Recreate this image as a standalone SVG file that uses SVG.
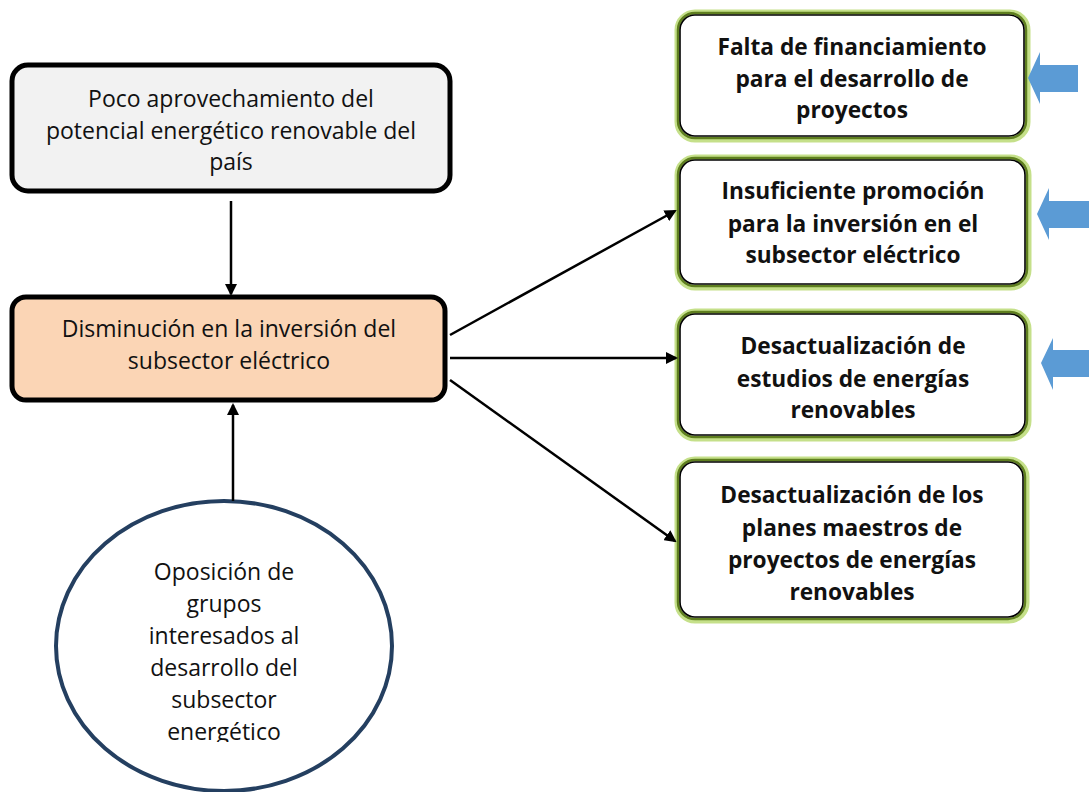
<svg xmlns="http://www.w3.org/2000/svg" width="1089" height="792" viewBox="0 0 1089 792">
<style>
.t{font-family:"Open Sans","Liberation Sans",sans-serif;font-size:23px;fill:#111;text-anchor:middle}
.b{font-family:"Open Sans","Liberation Sans",sans-serif;font-size:22.7px;font-weight:bold;fill:#111;text-anchor:middle}
.g1{fill:none;stroke:#c5e08a;stroke-width:5}
.g2{fill:none;stroke:#5f7f1f;stroke-width:2.5}
.g3{fill:#fff;stroke:#000;stroke-width:1.6}
.c{stroke:#000;stroke-width:2.5;fill:none}
.blue{fill:#5b9bd5}
</style>
<defs>
<marker id="ah" markerWidth="12" markerHeight="12" refX="10" refY="6" orient="auto" markerUnits="userSpaceOnUse">
<path d="M0,0 L12,6 L0,12 Z" fill="#000"/>
</marker>
<clipPath id="ec"><rect x="0" y="0" width="1089" height="742"/></clipPath>
</defs>
<g id="n1">
<rect x="12" y="65" width="438" height="126" rx="16" fill="#f2f2f2" stroke="#000" stroke-width="5"/>
<text class="t" x="231" y="107">Poco aprovechamiento del</text>
<text class="t" x="231" y="139">potencial energético renovable del</text>
<text class="t" x="231" y="170">país</text>
</g>
<g id="n2">
<rect x="12" y="297" width="433" height="103" rx="14" fill="#fbd5b5" stroke="#000" stroke-width="5"/>
<text class="t" x="229" y="337">Disminución en la inversión del</text>
<text class="t" x="229" y="369">subsector eléctrico</text>
</g>
<g id="n3">
<ellipse cx="224" cy="646" rx="168" ry="145" fill="#fff" stroke="#243f60" stroke-width="4"/>
<g clip-path="url(#ec)">
<text class="t" x="224" y="580">Oposición de</text>
<text class="t" x="224" y="612">grupos</text>
<text class="t" x="224" y="644">interesados al</text>
<text class="t" x="224" y="676">desarrollo del</text>
<text class="t" x="224" y="708">subsector</text>
<text class="t" x="224" y="740">energético</text>
</g>
</g>
<g id="n4">
<rect class="g1" x="677" y="12" width="351" height="128" rx="18"/>
<rect class="g2" x="678" y="13" width="348" height="125" rx="17"/>
<rect class="g3" x="680" y="15" width="344" height="121" rx="15"/>
<text class="b" x="852" y="55">Falta de financiamiento</text>
<text class="b" x="852" y="87">para el desarrollo de</text>
<text class="b" x="852" y="118">proyectos</text>
</g>
<g id="n5">
<rect class="g1" x="677" y="157" width="352" height="131" rx="18"/>
<rect class="g2" x="678" y="158" width="349" height="128" rx="17"/>
<rect class="g3" x="680" y="160" width="345" height="124" rx="15"/>
<text class="b" x="853" y="199">Insuficiente promoción</text>
<text class="b" x="853" y="232">para la inversión en el</text>
<text class="b" x="853" y="263">subsector eléctrico</text>
</g>
<g id="n6">
<rect class="g1" x="677" y="311" width="352" height="128" rx="18"/>
<rect class="g2" x="678" y="312" width="349" height="125" rx="17"/>
<rect class="g3" x="680" y="314" width="345" height="121" rx="15"/>
<text class="b" x="853" y="354">Desactualización de</text>
<text class="b" x="853" y="387">estudios de energías</text>
<text class="b" x="853" y="418">renovables</text>
</g>
<g id="n7">
<rect class="g1" x="677" y="459" width="350" height="162" rx="18"/>
<rect class="g2" x="678" y="460" width="347" height="159" rx="17"/>
<rect class="g3" x="680" y="462" width="343" height="155" rx="15"/>
<text class="b" x="852" y="503">Desactualización de los</text>
<text class="b" x="852" y="536">planes maestros de</text>
<text class="b" x="852" y="568">proyectos de energías</text>
<text class="b" x="852" y="600">renovables</text>
</g>
<g id="connectors">
<line class="c" x1="231" y1="201" x2="231" y2="294" marker-end="url(#ah)"/>
<line class="c" x1="233" y1="501" x2="233" y2="405" marker-end="url(#ah)"/>
<line class="c" x1="450" y1="335" x2="675" y2="211" marker-end="url(#ah)"/>
<line class="c" x1="450" y1="358" x2="676" y2="358" marker-end="url(#ah)"/>
<line class="c" x1="450" y1="380" x2="675" y2="541" marker-end="url(#ah)"/>
</g>
<g id="blue-arrows">
<path class="blue" d="M1028,78 L1040,52 L1040,65 L1078,65 L1078,92 L1040,92 L1040,104 Z"/>
<path class="blue" d="M1037,214 L1049,188 L1049,201 L1089,201 L1089,228 L1049,228 L1049,240 Z"/>
<path class="blue" d="M1041,363 L1053,338 L1053,350 L1089,350 L1089,377 L1053,377 L1053,390 Z"/>
</g>
</svg>
